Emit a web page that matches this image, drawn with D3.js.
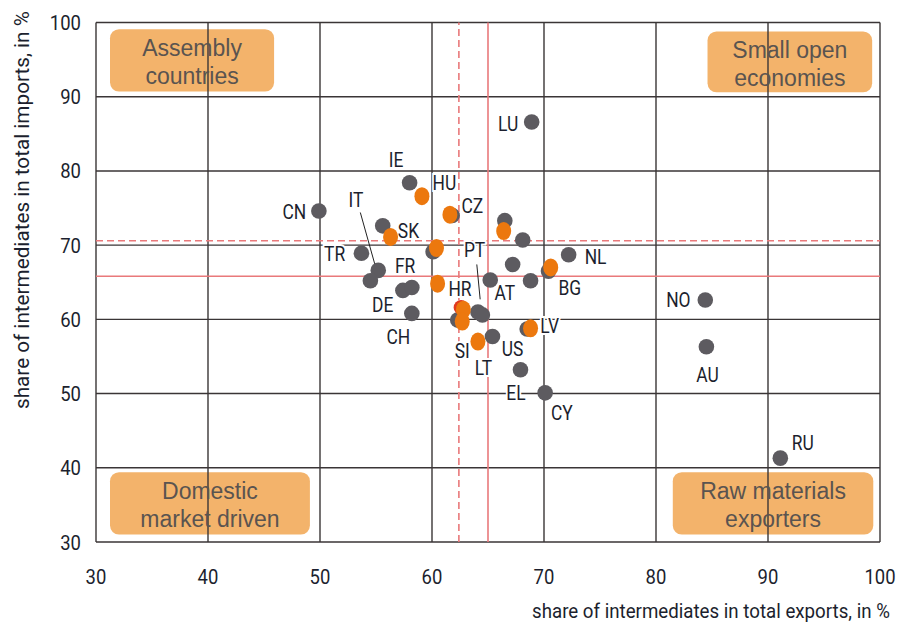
<!DOCTYPE html>
<html><head><meta charset="utf-8">
<script src="https://cdn.jsdelivr.net/npm/d3@7"></script>
<style>
body{margin:0;background:#fff;}
svg{display:block;}
</style></head>
<body><svg id="c" width="900" height="631"></svg>
<script>
// ---- data ----
const xTicks = [30,40,50,60,70,80,90,100];
const yTicks = [30,40,50,60,70,80,90,100];
// grey group points [x, y]
const greyPts = [
 [68.9,86.6],[58.0,78.4],[49.9,74.6],[55.6,72.6],[53.7,68.9],[55.2,66.6],[54.5,65.2],
 [57.4,63.9],[58.2,64.3],[58.2,60.8],[60.1,69.1],[61.8,74.0],[66.5,73.3],[68.1,70.7],
 [72.2,68.7],[67.2,67.4],[70.4,66.5],[68.8,65.2],[65.2,65.3],[62.3,59.9],[64.1,61.0],
 [64.5,60.6],[65.4,57.7],[68.5,58.7],[67.9,53.2],[70.1,50.1],[84.4,62.6],[84.5,56.3],[91.1,41.3]
];
const redPts = [[62.6,61.6]];
// orange group points [x, y]
const orangePts = [
 [59.1,76.6],[61.6,74.1],[56.3,71.1],[60.4,69.6],[66.4,71.9],[70.6,67.0],[60.5,64.8],
 [62.8,61.3],[62.7,59.7],[64.1,57.0],[68.8,58.8]
];
// country labels [code, x, y]
const labels = [
 ["LU",66.8,86.3],["IE",56.8,81.5],["HU",61.1,78.4],["CZ",63.6,75.3],["CN",47.7,74.5],
 ["IT",53.2,76.1],["SK",57.9,71.9],["TR",51.3,68.8],["PT",63.8,69.3],["FR",57.6,67.2],
 ["NL",74.6,68.4],["HR",62.5,64.1],["AT",66.5,63.6],["BG",72.3,64.2],["DE",55.6,62.0],
 ["LV",70.5,59.1],["CH",57.0,57.6],["SI",62.7,55.7],["US",67.2,56.0],["LT",64.6,53.4],
 ["EL",67.5,50.1],["CY",71.6,47.4],["NO",82.0,62.6],["AU",84.6,52.5],["RU",93.1,43.3]
];
// leader lines [[x1,y1],[x2,y2]]
const leaders = [
 [[53.6,74.4],[54.9,67.4]],
 [[64.0,67.4],[64.3,62.7]]
];
// reference lines
const refX = [{v:62.4,dash:true},{v:65.0,dash:false}];
const refY = [{v:70.6,dash:true},{v:65.8,dash:false}];
// quadrant boxes [text lines, x0, x1, y0, y1]
const boxes = [
 [["Assembly","countries"],31.25,45.9,99.1,90.7],
 [["Small open","economies"],84.6,99.3,98.8,90.6],
 [["Domestic","market driven"],31.25,49.1,39.4,31.0],
 [["Raw materials","exporters"],81.5,99.4,39.4,31.0]
];
const xTitle = "share of intermediates in total exports, in %";
const yTitle = "share of intermediates in total imports, in %";

// ---- chart ----
const svg = d3.select("#c");
const x = d3.scaleLinear().domain([30,100]).range([96,880]);
const y = d3.scaleLinear().domain([30,100]).range([542,22.5]);
const grid = "#3a3536";
const ink = "#1c1f2e";
const COND = "Roboto, 'Liberation Sans', sans-serif";

// boxes
const bx = svg.append("g");
boxes.forEach(b=>{
  bx.append("rect").attr("x",x(b[1])).attr("width",x(b[2])-x(b[1]))
    .attr("y",y(b[3])).attr("height",y(b[4])-y(b[3]))
    .attr("rx",9).attr("fill","#F0A24B").attr("opacity",0.82);
});

// grid
const g = svg.append("g");
g.selectAll(".vx").data(xTicks).join("line")
 .attr("x1",d=>x(d)).attr("x2",d=>x(d)).attr("y1",y(30)).attr("y2",y(100))
 .attr("stroke",grid).attr("stroke-width",1.4);
g.selectAll(".hy").data(yTicks).join("line")
 .attr("y1",d=>y(d)).attr("y2",d=>y(d)).attr("x1",x(30)).attr("x2",x(100))
 .attr("stroke",grid).attr("stroke-width",1.4);

// reference lines
refX.forEach(r=>{
  svg.append("line").attr("x1",x(r.v)).attr("x2",x(r.v)).attr("y1",y(30)).attr("y2",y(100))
   .attr("stroke","#E9797B").attr("stroke-width",1.6).attr("stroke-dasharray",r.dash?"7,4":null);
});
refY.forEach(r=>{
  svg.append("line").attr("y1",y(r.v)).attr("y2",y(r.v)).attr("x1",x(30)).attr("x2",x(100))
   .attr("stroke","#E9797B").attr("stroke-width",1.6).attr("stroke-dasharray",r.dash?"7,4":null);
});

// box texts
boxes.forEach(b=>{
  const cx=(x(b[1])+x(b[2]))/2, cy=(y(b[3])+y(b[4]))/2;
  b[0].forEach((t,i)=>{
    svg.append("text").attr("x",cx).attr("y",cy+(i===0?-4:24)).attr("text-anchor","middle")
     .attr("font-family","'Liberation Sans', Arial, sans-serif").attr("font-size",23)
     .attr("fill","#5a5450").text(t);
  });
});

// condensed text helper
function ctext(sel, px, py, sx){
  return sel.attr("transform",(d,i)=>`translate(${px(d,i)},${py(d,i)}) scale(${sx},1)`)
    .attr("font-family",COND);
}

// tick labels
ctext(svg.selectAll(".xt").data(xTicks).join("text"), d=>x(d), ()=>584, 0.88)
 .attr("text-anchor","middle").attr("font-size",21).attr("fill",ink).text(d=>d);
ctext(svg.selectAll(".yt").data(yTicks).join("text"), ()=>81, d=>y(d)+7.5, 0.88)
 .attr("text-anchor","end").attr("font-size",21).attr("fill",ink).text(d=>d);

// axis titles (scaled horizontally to the reference's width)
const xt = svg.append("text").attr("font-family",COND)
 .attr("font-size",20).attr("fill",ink).text(xTitle);
const xs = 358 / xt.node().getComputedTextLength();
xt.attr("transform",`translate(532,618) scale(${xs},1)`);
const yt = svg.append("text").attr("font-family",COND)
 .attr("font-size",20).attr("fill",ink).text(yTitle);
const ys = 398 / yt.node().getComputedTextLength();
yt.attr("transform",`translate(29,409) rotate(-90) scale(${ys},1)`);

// leader lines
leaders.forEach(l=>{
  svg.append("line").attr("x1",x(l[0][0])).attr("y1",y(l[0][1])).attr("x2",x(l[1][0])).attr("y2",y(l[1][1]))
   .attr("stroke","#222").attr("stroke-width",1);
});

// labels
ctext(svg.selectAll(".lb").data(labels).join("text"), d=>x(d[1]), d=>y(d[2])+7, 0.87)
 .attr("text-anchor","middle").attr("font-size",20).attr("fill",ink)
 .attr("stroke","#fff").attr("stroke-width",4).attr("paint-order","stroke")
 .text(d=>d[0]);

// points
svg.selectAll(".gp").data(greyPts).join("circle")
 .attr("cx",d=>x(d[0])).attr("cy",d=>y(d[1])).attr("r",7.8).attr("fill","#5d5b60");
svg.selectAll(".rp").data(redPts).join("circle")
 .attr("cx",d=>x(d[0])).attr("cy",d=>y(d[1])).attr("r",7.5).attr("fill","#E0391E");
svg.selectAll(".op").data(orangePts).join("ellipse")
 .attr("cx",d=>x(d[0])).attr("cy",d=>y(d[1])).attr("rx",7.5).attr("ry",9).attr("fill","#EC780E");
</script></body></html>
